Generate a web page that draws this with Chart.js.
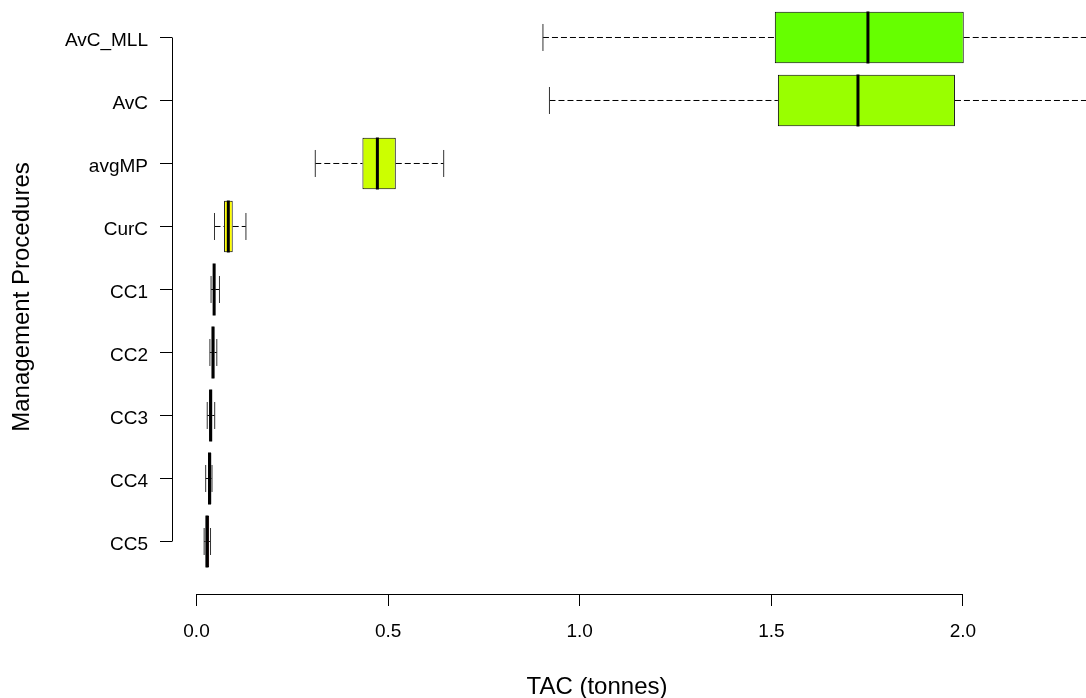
<!DOCTYPE html>
<html>

<head>
    <title>TAC by management procedure</title>
    <script src="https://cdn.jsdelivr.net/npm/chart.js@4.4.1/dist/chart.umd.min.js"></script>
    <style>
        body { margin: 0; background: #fff; }
        canvas { display: block; }
    </style>
</head>

<body>
    <canvas id="boxChart" width="1086" height="698"></canvas>
    <script>
        // management procedures, top to bottom
        const procedures = ['AvC_MLL', 'AvC', 'avgMP', 'CurC', 'CC1', 'CC2', 'CC3', 'CC4', 'CC5'];
        // five-number summaries of TAC (tonnes)
        const tacMin = [0.904, 0.921, 0.31, 0.047, 0.038, 0.035, 0.028, 0.024, 0.020];
        const tacQ1 = [1.509, 1.517, 0.433, 0.072, 0.043, 0.040, 0.033, 0.030, 0.0235];
        const tacMedian = [1.752, 1.726, 0.472, 0.083, 0.046, 0.043, 0.037, 0.034, 0.0275];
        const tacQ3 = [2.002, 1.979, 0.52, 0.0945, 0.049, 0.047, 0.041, 0.039, 0.033];
        const tacMax = [2.6, 2.55, 0.645, 0.129, 0.060, 0.053, 0.0475, 0.0405, 0.0366];
        const boxColors = ['#66FF00', '#99FF00', '#CCFF00', '#FFFF00', '#FFCC00', '#FF9900', '#FF6600', '#FF3300', '#FF0000'];
        const xTicks = [0, 0.5, 1.0, 1.5, 2.0];

        // procedure i sits at y = n - i (top row highest)
        const rowPos = procedures.map((p, i) => procedures.length - i);

        const whiskerPts = [];
        procedures.forEach((p, i) => {
            whiskerPts.push({ x: tacMin[i], y: rowPos[i] }, { x: tacQ1[i], y: rowPos[i] }, { x: null, y: null });
            whiskerPts.push({ x: tacQ3[i], y: rowPos[i] }, { x: tacMax[i], y: rowPos[i] }, { x: null, y: null });
        });
        const capPts = [];
        procedures.forEach((p, i) => {
            capPts.push({ x: tacMin[i], y: rowPos[i] }, { x: tacMax[i], y: rowPos[i] });
        });

        Chart.defaults.font.family = '"Liberation Sans", Arial, sans-serif';
        Chart.defaults.color = '#000';

        const noPad = (scale) => {
            scale.paddingTop = 0; scale.paddingBottom = 0;
            scale.paddingLeft = 0; scale.paddingRight = 0;
        };

        // R style axis lines that only span first..last tick
        const axisLines = {
            id: 'axisLines',
            afterDraw(chart) {
                const { ctx, chartArea, scales: { x, y } } = chart;
                const xt = x.ticks, yt = y.ticks;
                ctx.save();
                ctx.strokeStyle = '#000';
                ctx.lineWidth = 1;
                ctx.beginPath();
                const ax = Math.round(chartArea.left) + 0.5;
                ctx.moveTo(ax, y.getPixelForValue(yt[0].value));
                ctx.lineTo(ax, y.getPixelForValue(yt[yt.length - 1].value));
                const ay = Math.round(chartArea.bottom) + 0.5;
                ctx.moveTo(x.getPixelForValue(xt[0].value), ay);
                ctx.lineTo(x.getPixelForValue(xt[xt.length - 1].value), ay);
                ctx.stroke();
                ctx.restore();
            }
        };

        const ctx = document.getElementById('boxChart').getContext('2d');
        const chart = new Chart(ctx, {
            type: 'bar',
            data: {
                datasets: [{
                    type: 'line',
                    data: whiskerPts,
                    borderColor: '#000',
                    borderWidth: 1,
                    borderDash: [6, 3],
                    pointRadius: 0,
                    pointHoverRadius: 0,
                    spanGaps: false,
                    clip: false,
                    order: 4
                }, {
                    type: 'bar',
                    indexAxis: 'y',
                    data: procedures.map((p, i) => ({ x: [tacQ1[i], tacQ3[i]], y: rowPos[i] })),
                    backgroundColor: boxColors,
                    borderColor: '#000',
                    borderWidth: 1,
                    borderSkipped: false,
                    categoryPercentage: 1,
                    barPercentage: 0.82,
                    clip: false,
                    order: 3
                }, {
                    type: 'scatter',
                    data: capPts,
                    pointStyle: 'line',
                    pointRotation: 90,
                    pointRadius: 13.5,
                    pointHoverRadius: 13.5,
                    pointBorderWidth: 1,
                    pointBorderColor: '#333',
                    clip: false,
                    order: 2
                }, {
                    type: 'scatter',
                    data: procedures.map((p, i) => ({ x: tacMedian[i], y: rowPos[i] })),
                    pointStyle: 'line',
                    pointRotation: 90,
                    pointRadius: 26,
                    pointHoverRadius: 26,
                    pointBorderWidth: 3,
                    pointBorderColor: '#000',
                    clip: false,
                    order: 1
                }]
            },
            options: {
                responsive: false,
                devicePixelRatio: 1,
                animation: false,
                layout: { autoPadding: false, padding: { left: 0, top: 0, right: 64, bottom: 0 } },
                plugins: { legend: { display: false }, tooltip: { enabled: false } },
                scales: {
                    x: {
                        type: 'linear',
                        min: -0.0639,
                        max: 2.154,
                        offset: false,
                        afterBuildTicks: (scale) => { scale.ticks = xTicks.map(v => ({ value: v })); },
                        afterFit: (scale) => { scale.height = 104; noPad(scale); },
                        ticks: {
                            font: { size: 19 },
                            padding: 14,
                            callback: (v) => Number(v).toFixed(1)
                        },
                        grid: { display: true, drawOnChartArea: false, drawTicks: true, tickLength: 12, color: '#000', offset: false },
                        border: { display: false },
                        title: {
                            display: true,
                            text: 'TAC (tonnes)',
                            font: { size: 24, lineHeight: 1 },
                            padding: { top: 0, bottom: -1 }
                        }
                    },
                    y: {
                        type: 'linear',
                        min: 0.1667,
                        max: 9.595,
                        offset: false,
                        afterBuildTicks: (scale) => { scale.ticks = rowPos.slice().reverse().map(v => ({ value: v })); },
                        afterFit: (scale) => { scale.width = 172; noPad(scale); },
                        ticks: {
                            font: { size: 19 },
                            padding: 12,
                            labelOffset: 3,
                            callback: (v) => procedures[procedures.length - v]
                        },
                        grid: { display: true, drawOnChartArea: false, drawTicks: true, tickLength: 12, color: '#000', offset: false },
                        border: { display: false },
                        title: {
                            display: true,
                            text: 'Management Procedures',
                            font: { size: 24, lineHeight: 1 },
                            padding: { top: 10, bottom: 0 }
                        }
                    }
                }
            },
            plugins: [axisLines]
        });
    </script>
</body>

</html>
